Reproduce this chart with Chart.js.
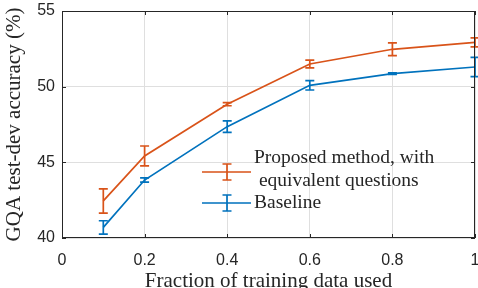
<!DOCTYPE html>
<html>
<head>
<meta charset="utf-8">
<script src="https://cdn.jsdelivr.net/npm/chart.js@4"></script>
<style>
  html, body { margin: 0; padding: 0; background: #fff; }
  #wrap { width: 478px; height: 288px; }
</style>
</head>
<body>
<div id="wrap"><canvas id="graph"></canvas></div>
<script>
// fraction of training data
var xValues = [0.1, 0.2, 0.4, 0.6, 0.8, 1.0];
// proposed method, with equivalent questions
var propMean = [42.45, 45.42, 48.84, 51.50, 52.47, 52.93];
var propErr  = [0.80, 0.66, 0.10, 0.26, 0.42, 0.30];
// baseline
var baseMean = [40.70, 43.83, 47.36, 50.09, 50.86, 51.30];
var baseErr  = [0.44, 0.14, 0.38, 0.31, 0.05, 0.64];

var xTicks = [0, 0.2, 0.4, 0.6, 0.8, 1];
var yTicks = [40, 45, 50, 55];

var orange = '#D95319';
var blue = '#0072BD';
var ink = '#262626';

function pts(xs, ys) {
  return xs.map(function (x, i) { return {x: x, y: ys[i]}; });
}

// draws the vertical error bars with caps
var errorBars = {
  id: 'errorBars',
  afterDatasetsDraw: function (chart) {
    var ctx = chart.ctx;
    var xs = chart.scales.x, ys = chart.scales.y;
    chart.data.datasets.forEach(function (ds) {
      ctx.save();
      ctx.strokeStyle = ds.borderColor;
      ctx.lineWidth = 1.7;
      ds.data.forEach(function (p, i) {
        var e = ds.errors[i];
        var px = xs.getPixelForValue(p.x);
        var top = ys.getPixelForValue(p.y + e);
        var bot = ys.getPixelForValue(p.y - e);
        ctx.beginPath();
        ctx.moveTo(px, top); ctx.lineTo(px, bot);
        ctx.moveTo(px - 4.5, top); ctx.lineTo(px + 4.5, top);
        ctx.moveTo(px - 4.5, bot); ctx.lineTo(px + 4.5, bot);
        ctx.stroke();
      });
      ctx.restore();
    });
  }
};

// box around the axes plus inward ticks, and the legend
var frameAndLegend = {
  id: 'frameAndLegend',
  afterDraw: function (chart) {
    var ctx = chart.ctx, a = chart.chartArea;
    var xs = chart.scales.x, ys = chart.scales.y;
    ctx.save();
    ctx.strokeStyle = ink;
    ctx.lineWidth = 1;
    ctx.strokeRect(a.left + 0.5, a.top + 0.5, a.right - a.left - 1, a.bottom - a.top - 1);
    ctx.beginPath();
    xTicks.forEach(function (t) {
      var px = Math.round(xs.getPixelForValue(t)) + 0.5;
      ctx.moveTo(px, a.bottom); ctx.lineTo(px, a.bottom - 4);
      ctx.moveTo(px, a.top); ctx.lineTo(px, a.top + 4);
    });
    yTicks.forEach(function (t) {
      var py = Math.round(ys.getPixelForValue(t)) + 0.5;
      ctx.moveTo(a.left, py); ctx.lineTo(a.left + 4, py);
      ctx.moveTo(a.right, py); ctx.lineTo(a.right - 4, py);
    });
    ctx.stroke();

    // legend
    var items = [
      {color: orange, y: 172, lines: ['Proposed method, with', ' equivalent questions'], ty: [158, 181]},
      {color: blue, y: 203, lines: ['Baseline'], ty: [203]}
    ];
    ctx.lineWidth = 1.7;
    ctx.font = '19.5px "Liberation Serif"';
    ctx.fillStyle = ink;
    ctx.textBaseline = 'middle';
    items.forEach(function (it) {
      ctx.strokeStyle = it.color;
      ctx.beginPath();
      ctx.moveTo(202, it.y); ctx.lineTo(251, it.y);
      ctx.moveTo(227, it.y - 8); ctx.lineTo(227, it.y + 8);
      ctx.moveTo(222.5, it.y - 8); ctx.lineTo(231.5, it.y - 8);
      ctx.moveTo(222.5, it.y + 8); ctx.lineTo(231.5, it.y + 8);
      ctx.stroke();
      it.lines.forEach(function (s, k) {
        ctx.fillText(s, 254, it.ty[k]);
      });
    });
    ctx.restore();
  }
};

new Chart('graph', {
  type: 'line',
  data: {
    datasets: [{
      label: 'Proposed method, with equivalent questions',
      data: pts(xValues, propMean),
      errors: propErr,
      borderColor: orange,
      borderWidth: 1.7,
      pointRadius: 0,
      fill: false
    }, {
      label: 'Baseline',
      data: pts(xValues, baseMean),
      errors: baseErr,
      borderColor: blue,
      borderWidth: 1.7,
      pointRadius: 0,
      fill: false
    }]
  },
  options: {
    responsive: true,
    maintainAspectRatio: false,
    animation: false,
    layout: {padding: {top: 11, right: 3, left: 0, bottom: 0}},
    plugins: {legend: {display: false}, tooltip: {enabled: false}},
    scales: {
      x: {
        type: 'linear', min: 0, max: 1,
        afterBuildTicks: function (s) { s.ticks = xTicks.map(function (v) { return {value: v}; }); },
        afterFit: function (s) { s.height = 50; s.paddingLeft = 0; s.paddingRight = 0; },
        grid: {color: '#dfdfdf', drawTicks: false},
        border: {display: false},
        ticks: {
          color: ink, padding: 13,
          font: {family: '"Liberation Sans"', size: 16},
          callback: function (v) { return String(v); }
        },
        title: {
          display: true, text: 'Fraction of training data used', color: ink,
          font: {family: '"Liberation Serif"', size: 21}, padding: {top: 0, bottom: -6}
        }
      },
      y: {
        min: 40, max: 55,
        afterBuildTicks: function (s) { s.ticks = yTicks.map(function (v) { return {value: v}; }); },
        afterFit: function (s) { s.width = 62; s.paddingTop = 0; s.paddingBottom = 0; },
        grid: {color: '#dfdfdf', drawTicks: false},
        border: {display: false},
        ticks: {
          color: ink, padding: 7,
          font: {family: '"Liberation Sans"', size: 16}
        },
        title: {
          display: true, text: 'GQA test-dev accuracy (%)', color: ink,
          font: {family: '"Liberation Serif"', size: 21}, padding: {top: 2, bottom: 0}
        }
      }
    }
  },
  plugins: [errorBars, frameAndLegend]
});
</script>
</body>
</html>
